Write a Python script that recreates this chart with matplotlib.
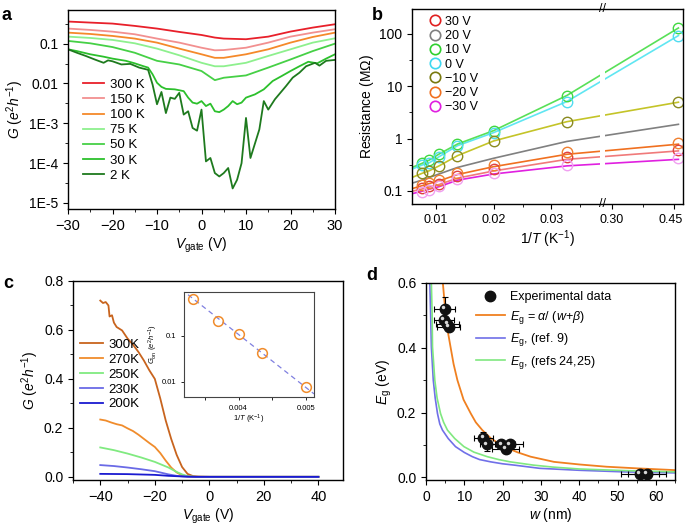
import numpy as np
import matplotlib
matplotlib.use('Agg')
import matplotlib.pyplot as plt
from matplotlib.ticker import FixedLocator, FixedFormatter, MultipleLocator
from matplotlib.lines import Line2D
from matplotlib import transforms

#------------------------------------------------------------------------------
# Datos
#------------------------------------------------------------------------------

# Panel a: G vs Vgate (escala log)
v_suave = [-30, -25, -20, -15, -10, -5, 0, 3, 5, 10, 15, 20, 25, 30]
g_300K = [0.359, 0.338, 0.319, 0.279, 0.239, 0.197, 0.165, 0.142, 0.134, 0.129, 0.150, 0.201, 0.253, 0.307]
g_150K = [0.239, 0.221, 0.200, 0.172, 0.134, 0.106, 0.079, 0.068, 0.069, 0.079, 0.106, 0.150, 0.189, 0.230]
g_100K = [0.189, 0.175, 0.156, 0.134, 0.106, 0.075, 0.054, 0.044, 0.044, 0.054, 0.072, 0.106, 0.147, 0.189]
g_75K = [0.150, 0.139, 0.124, 0.102, 0.075, 0.051, 0.033, 0.027, 0.027, 0.033, 0.049, 0.072, 0.106, 0.136]
g_50K = [0.117, 0.102, 0.082, 0.059, 0.037, 0.030, 0.0205, 0.0121, 0.0139, 0.0159, 0.025, 0.040, 0.065, 0.100]

v_30K = [-30, -28, -25, -22, -20, -17, -15, -13, -12, -11, -10, -9, -8, -6, -4, -3, -2, -1, 0,
         1, 2, 3, 4, 5, 6, 7, 8, 9, 10, 12, 14, 16, 18, 20, 22, 24, 26, 28, 30]
g_30K = [0.072, 0.065, 0.054, 0.047, 0.042, 0.037, 0.032, 0.027, 0.025, 0.017, 0.0104, 0.0082, 0.0073,
         0.0071, 0.0064, 0.0044, 0.0033, 0.0031, 0.0036, 0.0027, 0.0031, 0.0020, 0.0019, 0.0022, 0.0027,
         0.0036, 0.0030, 0.0033, 0.0044, 0.0053, 0.0071, 0.0115, 0.0153, 0.0205, 0.027, 0.035, 0.032,
         0.042, 0.054]

v_2K = [-30, -28, -26, -24, -22, -21, -20, -18, -16, -14, -12, -11, -10, -9, -8, -7, -6, -5, -4, -3,
        -2, -1, 0, 1, 2, 3, 4, 5, 6, 7, 8, 9, 10, 11, 13, 14, 15, 16.5, 19, 20.5, 22, 23.5, 25.5, 26.5, 28, 30]
g_2K = [0.072, 0.059, 0.049, 0.040, 0.033, 0.038, 0.036, 0.030, 0.031, 0.025, 0.022, 0.0094, 0.0030,
        0.0061, 0.0018, 0.0044, 0.0041, 0.0058, 0.00165, 0.0020, 0.00076, 0.00065, 0.0022, 1.1e-4,
        1.34e-4, 5.6e-5, 4.6e-5, 5.6e-5, 7.5e-5, 2.3e-5, 3.8e-5, 9.9e-5, 0.00136, 1.34e-4, 7e-4,
        0.0036, 0.0022, 0.0040, 0.0086, 0.014, 0.0186, 0.027, 0.033, 0.028, 0.037, 0.039]

# Panel b: resistencia vs 1/T
inv_T = [0.0075, 0.0088, 0.0105, 0.0137, 0.0200, 0.0327, 0.46]
inv_T_linea = [0.0058, 0.0075, 0.0088, 0.0105, 0.0137, 0.0200, 0.0327, 0.46]
r_30V = [0.111, 0.123, 0.138, 0.19, 0.257, 0.45, 0.60]
r_10V = [0.334, 0.387, 0.505, 0.785, 1.42, 6.65, 130]
r_0V = [0.31, 0.344, 0.449, 0.73, 1.30, 5.1, 93]
r_m10V = [0.215, 0.242, 0.30, 0.47, 0.90, 2.1, 4.95]
r_m20V = [0.128, 0.142, 0.16, 0.22, 0.31, 0.56, 0.81]
r_m30V = [0.095, 0.106, 0.123, 0.165, 0.215, 0.31, 0.42]
linea_30V = [0.098, 0.108, 0.118, 0.132, 0.175, 0.24, 0.40, 0.58]
linea_20V = [0.14, 0.16, 0.18, 0.21, 0.28, 0.42, 0.88, 1.87]
linea_10V = [0.28, 0.334, 0.387, 0.505, 0.785, 1.42, 6.65, 130]
linea_0V = [0.26, 0.31, 0.344, 0.449, 0.73, 1.30, 5.1, 93]
linea_m10V = [0.18, 0.215, 0.242, 0.30, 0.47, 0.90, 2.1, 4.95]
linea_m20V = [0.11, 0.125, 0.138, 0.155, 0.205, 0.29, 0.50, 0.78]
linea_m30V = [0.088, 0.098, 0.108, 0.12, 0.16, 0.21, 0.30, 0.40]

# Panel c: G vs Vgate (lineal)
v_300K_c = [-40, -39, -38, -37, -36.6, -35.7, -35, -34, -32, -30, -28, -26, -24, -22, -20, -18, -16,
            -14, -12, -10, -8, -6, -4, 0, 40]
g_300K_c = [0.72, 0.71, 0.714, 0.70, 0.655, 0.66, 0.63, 0.612, 0.598, 0.565, 0.54, 0.51, 0.475, 0.435,
            0.40, 0.32, 0.23, 0.155, 0.09, 0.04, 0.012, 0.003, 0.001, 0.0, 0.0]
v_270K_c = [-40, -38, -36, -34, -32, -30, -28, -26, -24, -22, -20, -18, -16, -14, -12, -10, -8, -6, 0, 40]
g_270K_c = [0.234, 0.23, 0.222, 0.215, 0.21, 0.198, 0.187, 0.172, 0.155, 0.138, 0.122, 0.097, 0.066,
            0.038, 0.018, 0.006, 0.002, 0.0, 0.0, 0.0]
v_250K_c = [-40, -35, -30, -25, -20, -15, -12, -10, -8, -5, 40]
g_250K_c = [0.12, 0.109, 0.095, 0.079, 0.061, 0.038, 0.02, 0.01, 0.003, 0.0, 0.0]
v_230K_c = [-40, -35, -30, -25, -20, -15, -12, -10, -8, 40]
g_230K_c = [0.048, 0.044, 0.038, 0.031, 0.023, 0.01, 0.004, 0.002, 0.0, 0.0]
v_200K_c = [-40, -30, -20, -15, -10, -5, 40]
g_200K_c = [0.012, 0.011, 0.008, 0.004, 0.0015, 0.0, 0.0]

# Recuadro de c: G_on vs 1/T
inv_T_on = [0.00333, 0.0037, 0.0040, 0.00435, 0.0050]
g_on = [0.635, 0.206, 0.11, 0.043, 0.0076]
inv_T_ajuste = [0.00325, 0.00512]
g_on_ajuste = [0.785, 0.0055]

# Panel d: Eg vs w
w_exp = [4.9, 4.7, 5.6, 6.0, 15.0, 16.0, 19.7, 20.8, 21.9, 55.8, 57.7]
eg_exp = [0.521, 0.487, 0.475, 0.465, 0.123, 0.102, 0.102, 0.089, 0.102, 0.010, 0.010]
w_err = [2.7, 2.5, 3.0, 3.0, 2.5, 2.0, 3.5, 3.5, 3.5, 5.0, 5.0]
eg_err = [0.036, 0.0, 0.0, 0.0, 0.018, 0.02, 0.0, 0.0, 0.0, 0.0, 0.0]
w_alfa = [4.3, 4.4, 5.1, 5.7, 6.4, 7.2, 8.2, 9.8, 11.7, 13.0, 14.7, 17.0, 20.3, 24.0, 27.3, 33.4,
          40.0, 47.1, 55.0, 65.0]
eg_alfa = [0.63, 0.60, 0.506, 0.45, 0.403, 0.35, 0.30, 0.24, 0.197, 0.17, 0.146, 0.12, 0.095, 0.077,
           0.064, 0.048, 0.040, 0.033, 0.028, 0.0225]
w_ref9 = [1.0, 1.2, 1.4, 1.9, 2.4, 3.0, 3.6, 4.3, 5.8, 7.7, 10.0, 12.1, 14.0, 16.9, 20.0, 23.0, 29.7,
          40.0, 52.0, 65.0]
eg_ref9 = [0.60, 0.506, 0.403, 0.30, 0.245, 0.197, 0.165, 0.146, 0.12, 0.095, 0.077, 0.064, 0.055,
           0.048, 0.042, 0.038, 0.028, 0.022, 0.017, 0.014]
w_ref24 = [1.4, 1.6, 1.7, 2.3, 2.9, 3.8, 4.6, 5.6, 7.5, 9.9, 12.5, 16.0, 19.0, 22.0, 25.0, 28.0,
           33.0, 40.0, 52.0, 65.0]
eg_ref24 = [0.60, 0.506, 0.403, 0.30, 0.245, 0.197, 0.17, 0.146, 0.12, 0.095, 0.078, 0.064, 0.055,
            0.048, 0.043, 0.038, 0.032, 0.026, 0.021, 0.017]

#------------------------------------------------------------------------------
# Estilo
#------------------------------------------------------------------------------
plt.rcParams['font.family'] = ['Liberation Sans', 'DejaVu Sans']
plt.rcParams['mathtext.fontset'] = 'custom'
plt.rcParams['mathtext.rm'] = 'Liberation Sans'
plt.rcParams['mathtext.it'] = 'Liberation Sans:italic'
plt.rcParams['mathtext.bf'] = 'Liberation Sans:bold'
plt.rcParams['font.size'] = 9.5
plt.rcParams['axes.linewidth'] = 1.0
for eje in ('x', 'y'):
    plt.rcParams[f'{eje}tick.direction'] = 'out'
    plt.rcParams[f'{eje}tick.major.size'] = 3.5
    plt.rcParams[f'{eje}tick.minor.size'] = 2
    plt.rcParams[f'{eje}tick.labelsize'] = 10


def caja(izq, der, arriba, abajo):
    # Convierte pixeles de la imagen a coordenadas de figura
    return [izq / 685, 1 - abajo / 528, (der - izq) / 685, (abajo - arriba) / 528]


fig = plt.figure(figsize=(6.85, 5.28), dpi=100)
ax_a = fig.add_axes(caja(68, 335, 10, 209))
ax_b = fig.add_axes(caja(412, 683, 9, 204))
ax_c = fig.add_axes(caja(73, 343, 281, 480))
ax_d = fig.add_axes(caja(426, 675, 283, 480))
ax_in = fig.add_axes(caja(184, 314, 292, 397))

etiqueta_G = r'$G\ (e^{2}h^{-1})$'
etiqueta_V = r'$V_{\mathrm{gate}}$ (V)'

#------------------------------------------------------------------------------
# Panel a
#------------------------------------------------------------------------------
series_a = [('300 K', v_suave, g_300K, '#e8202a'),
            ('150 K', v_suave, g_150K, '#f29090'),
            ('100 K', v_suave, g_100K, '#f5892a'),
            ('75 K', v_suave, g_75K, '#8ef08e'),
            ('50 K', v_suave, g_50K, '#46d046'),
            ('30 K', v_30K, g_30K, '#2cc02c'),
            ('2 K', v_2K, g_2K, '#1e7a1e')]
for etiqueta, v, g, color in series_a:
    ax_a.plot(v, g, color=color, lw=1.3, label=etiqueta)
ax_a.set_yscale('log')
ax_a.set_xlim(-30, 30)
ax_a.set_ylim(7e-6, 0.7)
ax_a.yaxis.set_major_locator(FixedLocator([1e-5, 1e-4, 1e-3, 0.01, 0.1]))
ax_a.yaxis.set_major_formatter(FixedFormatter(['1E-5', '1E-4', '1E-3', '0.01', '0.1']))
ax_a.yaxis.set_minor_locator(FixedLocator([3.16e-5, 3.16e-4, 3.16e-3, 0.0316, 0.316]))
ax_a.xaxis.set_major_locator(MultipleLocator(10))
ax_a.xaxis.set_minor_locator(MultipleLocator(5))
ax_a.tick_params(axis='x', labelsize=10.5)
ax_a.set_xlabel(etiqueta_V, fontsize=10, labelpad=2)
ax_a.set_ylabel(etiqueta_G, fontsize=10, labelpad=2)
ax_a.legend(loc='upper left', bbox_to_anchor=(0.055, 0.655), frameon=False, fontsize=9.5,
            handlelength=1.6, handletextpad=0.45, labelspacing=0.22, borderaxespad=0, borderpad=0)

#------------------------------------------------------------------------------
# Panel b (eje x con corte)
#------------------------------------------------------------------------------
k1, k2, hueco = 5770.0, 417.0, 5.0
nodos_x = [0.0, 0.0385, 0.284, 1.0]
nodos_p = [0.0, 0.0385 * k1, 0.0385 * k1 + hueco, 0.0385 * k1 + hueco + 0.716 * k2]


def adelante(x):
    return np.interp(x, nodos_x, nodos_p)


def inversa(p):
    return np.interp(p, nodos_p, nodos_x)


ax_b.set_xscale('function', functions=(adelante, inversa))
ax_b.set_yscale('log')

lineas_b = [(linea_30V, '#f07a7a'), (linea_20V, '#808080'), (linea_m20V, '#f07020'),
            (linea_m30V, '#e020e0'), (linea_m10V, '#c4c428'), (linea_0V, '#60e6f2'),
            (linea_10V, '#58e058')]
for valores, color in lineas_b:
    ax_b.plot(inv_T_linea, valores, color=color, lw=1.2)

circulos_b = [(r_30V, '#e04040'), (r_10V, '#40d840'), (r_0V, '#50dcf0'), (r_m10V, '#8a8a20'),
              (r_m20V, '#f08030'), (r_m30V, '#f0a0f0')]
for valores, color in circulos_b:
    ax_b.plot(inv_T, valores, 'o', mfc='none', mec=color, mew=1.0, ms=7.5)

ax_b.axvspan(0.0385, 0.284, color='white', lw=0, zorder=2.2)
trans_b = transforms.blended_transform_factory(ax_b.transData, ax_b.transAxes)
for y_corte in (1.0, 0.0):
    ax_b.text(0.16, y_corte, '//', transform=trans_b, ha='center', va='center', fontsize=9,
              clip_on=False, zorder=5)

ax_b.set_xlim(0.0058, 0.471)
ax_b.set_ylim(0.056, 300)
ax_b.xaxis.set_major_locator(FixedLocator([0.01, 0.02, 0.03, 0.30, 0.45]))
ax_b.xaxis.set_major_formatter(FixedFormatter(['0.01', '0.02', '0.03', '0.30', '0.45']))
ax_b.xaxis.set_minor_locator(FixedLocator([0.015, 0.025, 0.035, 0.375]))
ax_b.yaxis.set_major_locator(FixedLocator([0.1, 1, 10, 100]))
ax_b.yaxis.set_major_formatter(FixedFormatter(['0.1', '1', '10', '100']))
ax_b.yaxis.set_minor_locator(FixedLocator([0.316, 3.16, 31.6]))
ax_b.tick_params(axis='x', labelsize=9)
ax_b.set_xlabel(r'1/$T$ (K$^{-1}$)', fontsize=10, labelpad=2)
ax_b.set_ylabel(r'Resistance (M$\Omega$)', fontsize=10, labelpad=2)

# El ultimo rotulo (0.45) se corre un poco a la izquierda para que no se corte
desplazamiento = transforms.ScaledTranslation(-4 / 100, 0, fig.dpi_scale_trans)
ultimo = ax_b.xaxis.get_major_ticks()[-1]
ultimo.label1.set_transform(ultimo.label1.get_transform() + desplazamiento)

leyenda_b = [('30 V', '#e02020'), ('20 V', '#808080'), ('10 V', '#30d030'), ('0 V', '#40d8f0'),
             ('\u221210 V', '#7a7a10'), ('\u221220 V', '#f07020'), ('\u221230 V', '#e020e0')]
manijas_b = [Line2D([], [], ls='none', marker='o', mfc='none', mec=c, mew=1.2, ms=7.5, label=t)
             for t, c in leyenda_b]
ax_b.legend(handles=manijas_b, loc='upper left', bbox_to_anchor=(0.06, 0.965), frameon=False,
            fontsize=9, handlelength=1.0, handletextpad=0.3, labelspacing=0.18, borderaxespad=0,
            borderpad=0)

#------------------------------------------------------------------------------
# Panel c
#------------------------------------------------------------------------------
series_c = [('300K', v_300K_c, g_300K_c, '#c8641e'),
            ('270K', v_270K_c, g_270K_c, '#f08c2c'),
            ('250K', v_250K_c, g_250K_c, '#80ea80'),
            ('230K', v_230K_c, g_230K_c, '#6a6ae6'),
            ('200K', v_200K_c, g_200K_c, '#1a1ad0')]
for etiqueta, v, g, color in series_c:
    ax_c.plot(v, g, color=color, lw=1.3, label=etiqueta)
ax_c.set_xlim(-50, 49)
ax_c.set_ylim(-0.013, 0.8)
ax_c.xaxis.set_major_locator(MultipleLocator(20))
ax_c.xaxis.set_minor_locator(MultipleLocator(10))
ax_c.yaxis.set_major_locator(MultipleLocator(0.2))
ax_c.yaxis.set_minor_locator(MultipleLocator(0.1))
ax_c.yaxis.set_major_formatter(plt.FuncFormatter(lambda y, pos: f'{y:.1f}'))
ax_c.tick_params(axis='x', labelsize=10.5)
ax_c.set_xlabel(etiqueta_V, fontsize=10, labelpad=2)
ax_c.set_ylabel(etiqueta_G, fontsize=10, labelpad=2)
ax_c.legend(loc='upper left', bbox_to_anchor=(0.027, 0.71), frameon=False, fontsize=9.5,
            handlelength=1.7, handletextpad=0.4, labelspacing=0.2, borderaxespad=0, borderpad=0)

# Recuadro
ax_in.plot(inv_T_ajuste, g_on_ajuste, ls=(0, (4, 3)), color='#8080e0', lw=0.9)
ax_in.plot(inv_T_on, g_on, 'o', mfc='none', mec='#f08c2c', mew=1.1, ms=7)
ax_in.set_yscale('log')
ax_in.set_xlim(0.00319, 0.00512)
ax_in.set_ylim(0.0047, 0.9)
ax_in.xaxis.set_major_locator(FixedLocator([0.004, 0.005]))
ax_in.xaxis.set_major_formatter(FixedFormatter(['0.004', '0.005']))
ax_in.xaxis.set_minor_locator(FixedLocator([0.0035, 0.0045]))
ax_in.yaxis.set_major_locator(FixedLocator([0.01, 0.1]))
ax_in.yaxis.set_major_formatter(FixedFormatter(['0.01', '0.1']))
ax_in.yaxis.set_minor_locator(FixedLocator([]))
ax_in.tick_params(labelsize=5.5, length=2, width=0.6)
ax_in.set_xlabel(r'1/$T$ (K$^{-1}$)', fontsize=5.5, labelpad=1)
ax_in.set_ylabel(r'$G_{\mathrm{on}}\ (e^{2}h^{-1})$', fontsize=5.5, labelpad=1)
for lado in ax_in.spines.values():
    lado.set_linewidth(0.8)
    lado.set_color('#444444')

#------------------------------------------------------------------------------
# Panel d
#------------------------------------------------------------------------------
ax_d.plot(w_alfa, eg_alfa, color='#f08020', lw=1.3, label=r'$E_{\mathrm{g}}$ = $\alpha$/ ($w$+$\beta$)')
ax_d.plot(w_ref9, eg_ref9, color='#7070e8', lw=1.2, label=r'$E_{\mathrm{g}}$, (ref. 9)')
ax_d.plot(w_ref24, eg_ref24, color='#80e880', lw=1.2, label=r'$E_{\mathrm{g}}$, (refs 24,25)')
ax_d.errorbar(w_exp, eg_exp, xerr=w_err, yerr=eg_err, fmt='none', ecolor='black', elinewidth=0.8,
              capsize=2, capthick=0.8, zorder=3)
puntos, = ax_d.plot(w_exp, eg_exp, 'o', color='#111111', ms=7.5, zorder=4, label='Experimental data')
brillo = transforms.offset_copy(ax_d.transData, fig=fig, x=-1.3, y=1.3, units='points')
ax_d.plot(w_exp, eg_exp, 'o', color='#d8d8d8', ms=2.5, mew=0, transform=brillo, zorder=5)
ax_d.set_xlim(0, 65)
ax_d.set_ylim(-0.008, 0.6)
ax_d.xaxis.set_major_locator(MultipleLocator(10))
ax_d.xaxis.set_minor_locator(MultipleLocator(5))
ax_d.yaxis.set_major_locator(MultipleLocator(0.2))
ax_d.yaxis.set_minor_locator(MultipleLocator(0.1))
ax_d.yaxis.set_major_formatter(plt.FuncFormatter(lambda y, pos: f'{y:.1f}'))
ax_d.set_xlabel(r'$w$ (nm)', fontsize=10, labelpad=2)
ax_d.set_ylabel(r'$E_{\mathrm{g}}$ (eV)', fontsize=10, labelpad=2)
manijas_d, textos_d = ax_d.get_legend_handles_labels()
orden = [3, 0, 1, 2]
ax_d.legend([manijas_d[i] for i in orden], [textos_d[i] for i in orden], loc='upper left',
            bbox_to_anchor=(0.2, 0.96), frameon=False, fontsize=9, handlelength=2.3,
            handletextpad=0.45, labelspacing=0.45, borderaxespad=0, borderpad=0)

#------------------------------------------------------------------------------
# Letras de los paneles
#------------------------------------------------------------------------------
for letra, x, y in (('a', 2, 15), ('b', 372, 16), ('c', 3, 284), ('d', 366, 276)):
    fig.text(x / 685, 1 - y / 528, letra, fontsize=13, fontweight='bold', va='center')

fig.savefig('out.png', dpi=100)
